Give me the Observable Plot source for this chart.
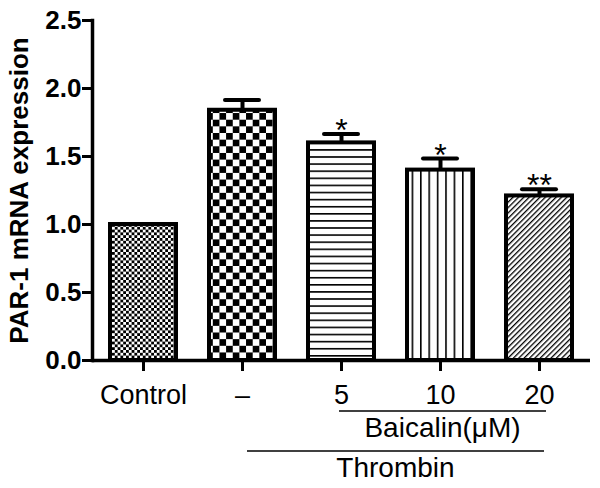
<!DOCTYPE html>
<html><head><meta charset="utf-8">
<script src="https://cdn.jsdelivr.net/npm/d3@7"></script>
<script src="https://cdn.jsdelivr.net/npm/@observablehq/plot@0.6"></script>
<style>body{margin:0;background:#fff} svg{display:block}</style>
</head><body><div id="chart"></div>
<script>
const categories = ["Control", "–", "5", "10", "20"];
const means = [1.00, 1.84, 1.60, 1.40, 1.21];
const sems = [0, 0.075, 0.065, 0.085, 0.05];
const stars = ["", "", "*", "*", "**"];
const yTicks = [0, 0.5, 1.0, 1.5, 2.0, 2.5];
const yLabel = "PAR-1 mRNA expression";
const groupLabels = ["Baicalin(μM)", "Thrombin"];
const groupFrom = ["5", "–"];
const groupTo = ["20", "20"];
const patternIds = ["pCtrl", "pCheck", "pHoriz", "pVert", "pDiag"];

const data = categories.map((c, i) => ({cat: c, mean: means[i], sem: sems[i], hi: means[i] + sems[i], star: stars[i], fill: `url(#${patternIds[i]})`}));
const withErr = data.filter(d => d.sem > 0);
const font = "'Liberation Sans', Arial, Helvetica, sans-serif";

const chart = Plot.plot({
  width: 600, height: 488,
  marginTop: 20, marginBottom: 128, marginLeft: 92, marginRight: 10,
  style: {fontFamily: font, background: "white", color: "black", overflow: "visible"},
  x: {domain: categories, paddingInner: 0.337, paddingOuter: 0.1685, label: null},
  y: {domain: [0, 2.5], label: null},
  color: {type: "identity"},
  marks: [
    Plot.axisY({ticks: yTicks, tickFormat: d3.format(".1f"), tickSize: 10, tickPadding: 1, fontSize: 26, fontWeight: "bold", strokeWidth: 3, label: null}),
    Plot.axisX({tickSize: 11, tickPadding: 13, fontSize: 27, strokeWidth: 3, label: null}),
    Plot.ruleX(withErr, {x: "cat", y1: "mean", y2: "hi", strokeWidth: 4}),
    Plot.tickY(withErr, {x: "cat", y: "hi", strokeWidth: 4, strokeLinecap: "round", insetLeft: 16, insetRight: 16}),
    Plot.barY(data, {x: "cat", y: "mean", fill: "fill", stroke: "black", strokeWidth: 4}),
    Plot.text(data, {x: "cat", y: "hi", text: "star", fontSize: 32, lineAnchor: "bottom", dy: 7}),
    Plot.ruleY([0], {strokeWidth: 3.5}),
    Plot.frame({anchor: "left", strokeWidth: 3.5}),
    Plot.text([yLabel], {frameAnchor: "left", textAnchor: "middle", rotate: -90, dx: -65, lineAnchor: "bottom", fontSize: 26, fontWeight: "bold"})
  ]
});
document.getElementById("chart").appendChild(chart);

// patterns
const svg = d3.select(chart);
const defs = svg.insert("defs", ":first-child");
function pat(id, w, h, transform) {
  const p = defs.append("pattern").attr("id", id).attr("patternUnits", "userSpaceOnUse").attr("width", w).attr("height", h);
  if (transform) p.attr("patternTransform", transform);
  p.append("rect").attr("width", w).attr("height", h).attr("fill", "white");
  return p;
}
let p = pat("pCtrl", 5.6, 5.6);
p.append("rect").attr("width", 2.8).attr("height", 2.8).attr("fill", "black");
p.append("rect").attr("x", 2.8).attr("y", 2.8).attr("width", 2.8).attr("height", 2.8).attr("fill", "black");
p = pat("pCheck", 13.3, 13.3);
p.append("rect").attr("width", 6.65).attr("height", 6.65).attr("fill", "black");
p.append("rect").attr("x", 6.65).attr("y", 6.65).attr("width", 6.65).attr("height", 6.65).attr("fill", "black");
p = pat("pHoriz", 10, 7.1);
p.append("rect").attr("width", 10).attr("height", 1.6).attr("fill", "black");
p = pat("pVert", 8.4, 10);
p.append("rect").attr("width", 1.6).attr("height", 10).attr("fill", "black");
p = pat("pDiag", 3.8, 10, "rotate(45)");
p.append("rect").attr("width", 1.3).attr("height", 10).attr("fill", "black");

// group brackets under the axis
const xs = chart.scale("x");
const cx = c => xs.apply(c) + xs.bandwidth / 2;
const bottom = 488 - 128;
const lineOff = [51, 91], textOff = [77, 117];
const extL = [-2, 5], extR = [7, 5];
const g = svg.append("g").attr("font-family", font).attr("font-size", 28).attr("text-anchor", "middle");
groupLabels.forEach((lab, i) => {
  const x1 = cx(groupFrom[i]) + extL[i], x2 = cx(groupTo[i]) + extR[i];
  g.append("line").attr("x1", x1).attr("x2", x2).attr("y1", bottom + lineOff[i]).attr("y2", bottom + lineOff[i]).attr("stroke", "black").attr("stroke-width", 1.7);
  g.append("text").attr("x", (x1 + x2) / 2).attr("y", bottom + textOff[i]).attr("fill", "black").text(lab);
});
</script></body></html>
